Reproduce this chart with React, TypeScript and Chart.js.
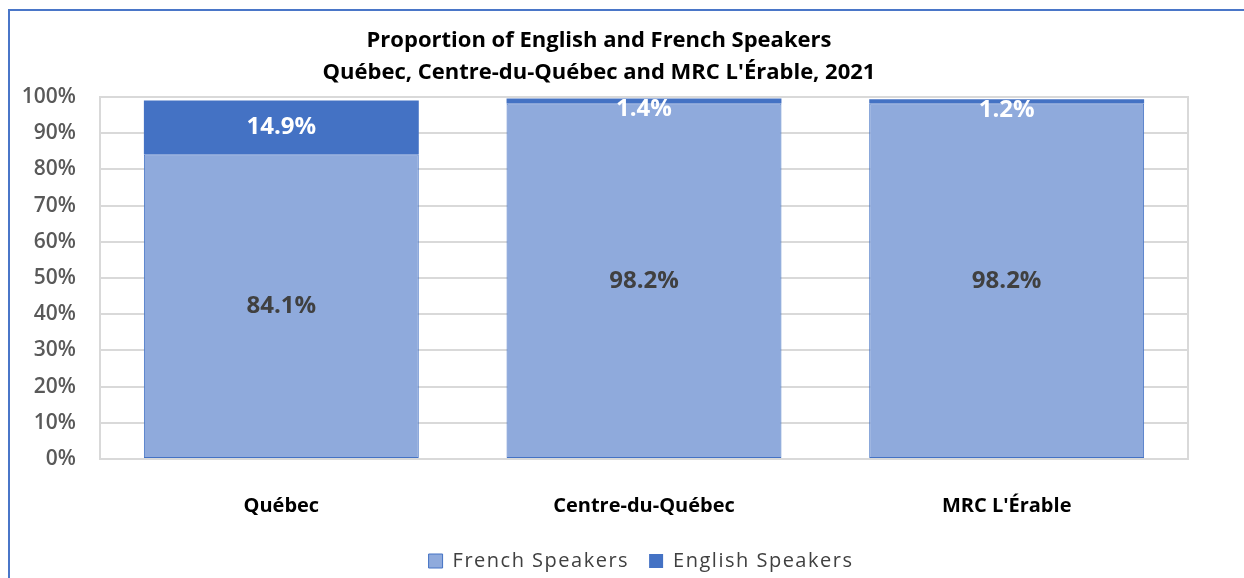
import React, { useEffect, useRef } from "react";
import { Chart, registerables } from "chart.js";

Chart.register(...registerables);

const categories = ["Québec", "Centre-du-Québec", "MRC L'Érable"];
const frenchSpeakers = [84.1, 98.2, 98.2];
const englishSpeakers = [14.9, 1.4, 1.2];
const titleLines = [
  "Proportion of English and French Speakers",
  "Québec, Centre-du-Québec and MRC L'Érable, 2021",
];
const seriesNames = ["French Speakers", "English Speakers"];

const FONT = "'Open Sans'";

const plotBorder = {
  id: "plotBorder",
  beforeDatasetsDraw(chart: any) {
    const { ctx, chartArea } = chart;
    ctx.save();
    ctx.strokeStyle = "#D9D9D9";
    ctx.lineWidth = 2;
    ctx.strokeRect(chartArea.left, chartArea.top, chartArea.right - chartArea.left, chartArea.bottom - chartArea.top);
    ctx.restore();
  },
};

const dataLabels = {
  id: "dataLabels",
  afterDatasetsDraw(chart: any) {
    const { ctx } = chart;
    ctx.save();
    ctx.textAlign = "center";
    ctx.textBaseline = "middle";
    chart.data.datasets.forEach((ds: any, di: number) => {
      const meta = chart.getDatasetMeta(di);
      meta.data.forEach((bar: any, i: number) => {
        const v = ds.data[i];
        const top = Math.min(bar.y, bar.base);
        const bottom = Math.max(bar.y, bar.base);
        let y = (top + bottom) / 2;
        y = Math.max(y, top + 11);
        ctx.font = `bold 24px ${FONT}`;
        ctx.fillStyle = di === 0 ? "#404040" : "#FFFFFF";
        ctx.fillText(v.toFixed(1) + "%", bar.x, y);
      });
    });
    ctx.restore();
  },
};

export default function App() {
  const ref = useRef<HTMLCanvasElement>(null);
  useEffect(() => {
    document.body.style.overflow = "hidden";
    const chart: any = new Chart(ref.current!, {
      type: "bar",
      data: {
        labels: categories,
        datasets: [
          {
            label: seriesNames[0],
            data: frenchSpeakers,
            backgroundColor: "#8FAADC",
            borderColor: "#4472C4",
            borderWidth: 1,
            borderSkipped: false,
          },
          {
            label: seriesNames[1],
            data: englishSpeakers,
            backgroundColor: "#4472C4",
            borderColor: "#4472C4",
            borderWidth: 0,
          },
        ],
      },
      options: {
        animation: false,
        responsive: false,
        layout: { padding: { left: 0, right: 56, top: 0, bottom: 0 } },
        datasets: { bar: { categoryPercentage: 0.758, barPercentage: 1 } },
        plugins: {
          title: {
            display: true,
            text: titleLines,
            color: "#000000",
            font: { family: FONT, size: 22, weight: "bold", lineHeight: "32px" },
            padding: { top: 14, bottom: 8 },
          },
          legend: {
            position: "bottom",
            labels: {
              boxWidth: 14,
              boxHeight: 14,
              color: "#404040",
              font: { family: FONT, size: 20 },
              padding: 20,
            },
          },
          tooltip: { enabled: false },
        },
        scales: {
          x: {
            stacked: true,
            grid: { display: false },
            border: { display: false },
            ticks: {
              color: "#000000",
              font: { family: FONT, size: 20, weight: "bold" },
              padding: 27,
            },
            afterFit(scale: any) {
              scale.height = 87;
            },
          },
          y: {
            stacked: true,
            min: 0,
            max: 100,
            grid: { color: "#D9D9D9", lineWidth: 2, drawTicks: false },
            border: { display: true, color: "#D9D9D9", width: 2 },
            ticks: {
              stepSize: 10,
              color: "#595959",
              font: { family: FONT, size: 21, weight: 600 },
              padding: 24,
              callback: (v: any) => v + "%",
            },
            afterFit(scale: any) {
              scale.width = 90;
            },
          },
        },
      },
      plugins: [plotBorder, dataLabels],
    });
    const lg = chart.legend;
    if (lg) {
      const origFit = lg.fit.bind(lg);
      lg.fit = function () {
        const c = chart.ctx;
        const prev = c.letterSpacing;
        c.letterSpacing = "1.5px";
        origFit();
        c.letterSpacing = prev || "0px";
        lg.height = 32;
      };
      lg.draw = function () {
        const c = chart.ctx;
        c.save();
        c.translate(42, -15);
        c.letterSpacing = "1.5px";
        lg._draw();
        c.restore();
      };
      chart.update();
    }
    return () => chart.destroy();
  }, []);
  return (
    <div
      style={{
        position: "absolute",
        left: 8,
        top: 9,
        borderLeft: "2px solid #4A76C8",
        borderTop: "2px solid #4A76C8",
        height: 569,
        width: 1236,
        boxSizing: "border-box",
      }}
    >
      <canvas ref={ref} width={1234} height={567} style={{ display: "block" }} />
    </div>
  );
}
